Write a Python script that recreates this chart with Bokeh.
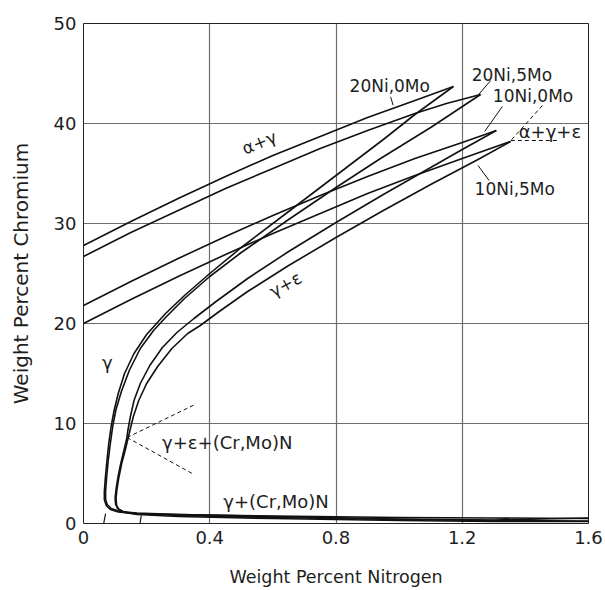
from bokeh.plotting import figure
from bokeh.embed import file_html
from bokeh.resources import INLINE
from bokeh.models import FixedTicker, Range1d
from bokeh.core.properties import value

# ---------------- data (wt% N, wt% Cr) ----------------
x_ticks = [0, 0.4, 0.8, 1.2, 1.6]
y_ticks = [0, 10, 20, 30, 40, 50]
x_title = "Weight Percent Nitrogen"
y_title = "Weight Percent Chromium"

# alpha+gamma / gamma boundaries
up_20ni_0mo_x = [0, 0.15, 0.3, 0.45, 0.6, 0.75, 0.9, 1.05, 1.172]
up_20ni_0mo_y = [27.8, 30.2, 32.5, 34.7, 36.8, 38.7, 40.6, 42.3, 43.7]
up_20ni_5mo_x = [0, 0.15, 0.3, 0.45, 0.6, 0.75, 0.9, 1.05, 1.15, 1.258]
up_20ni_5mo_y = [26.7, 29.1, 31.3, 33.5, 35.5, 37.5, 39.3, 41.0, 42.0, 42.9]
up_10ni_0mo_x = [0, 0.15, 0.3, 0.45, 0.6, 0.75, 0.9, 1.05, 1.2, 1.308]
up_10ni_0mo_y = [21.8, 24.2, 26.5, 28.7, 30.8, 32.8, 34.7, 36.5, 38.1, 39.3]
up_10ni_5mo_x = [0, 0.15, 0.3, 0.45, 0.6, 0.75, 0.9, 1.05, 1.2, 1.353]
up_10ni_5mo_y = [20.0, 22.4, 24.7, 26.9, 29.0, 31.0, 33.0, 34.8, 36.5, 38.2]

# gamma / gamma+epsilon and gamma / gamma+(Cr,Mo)N boundaries
rt_20ni_0mo_x = [1.172, 1.05, 0.95, 0.8, 0.65, 0.5, 0.4, 0.32, 0.26, 0.2, 0.16, 0.13, 0.11,
                 0.097, 0.088, 0.08, 0.074, 0.069, 0.066, 0.066, 0.072, 0.085, 0.11, 0.16,
                 0.3, 0.6, 1.0, 1.3, 1.6]
rt_20ni_0mo_y = [43.7, 40.9, 38.4, 34.8, 31.2, 27.6, 25.0, 22.8, 21.0, 18.9, 17.0, 15.0, 13.0,
                 11.3, 9.8, 8.0, 6.2, 4.5, 3.2, 2.4, 1.8, 1.4, 1.15, 1.0,
                 0.9, 0.75, 0.6, 0.55, 0.5]
rt_20ni_5mo_x = [1.258, 1.1, 0.941, 0.8, 0.65, 0.5, 0.4, 0.32, 0.26, 0.222, 0.18, 0.145, 0.12,
                 0.103, 0.093, 0.085, 0.078, 0.073, 0.07, 0.07, 0.075, 0.088, 0.115, 0.17,
                 0.3, 0.6, 1.0, 1.3, 1.45, 1.6]
rt_20ni_5mo_y = [42.9, 39.6, 36.5, 33.6, 30.4, 27.1, 24.7, 22.5, 20.6, 19.3, 17.5, 15.3, 13.2,
                 11.4, 9.8, 8.0, 6.2, 4.5, 3.2, 2.4, 1.9, 1.5, 1.2, 1.05,
                 0.9, 0.7, 0.45, 0.35, 0.45, 0.55]
rt_10ni_0mo_x = [1.308, 1.2, 1.1, 0.95, 0.8, 0.65, 0.52, 0.42, 0.35, 0.296, 0.25, 0.21, 0.18,
                 0.16, 0.148, 0.14, 0.137, 0.128, 0.118, 0.109, 0.103, 0.1, 0.102, 0.108,
                 0.125, 0.16, 0.3, 0.6, 1.0, 1.3, 1.6]
rt_10ni_0mo_y = [39.3, 37.4, 35.6, 32.9, 30.1, 27.2, 24.5, 22.2, 20.5, 19.1, 17.6, 15.8, 14.0,
                 12.3, 10.6, 9.2, 8.5, 7.3, 6.0, 4.6, 3.4, 2.5, 1.9, 1.5,
                 1.2, 1.0, 0.8, 0.6, 0.4, 0.3, 0.25]
rt_10ni_5mo_x = [1.353, 1.25, 1.1, 0.95, 0.8, 0.65, 0.52, 0.43, 0.37, 0.33, 0.28, 0.235, 0.2,
                 0.175, 0.158, 0.147, 0.141, 0.132, 0.121, 0.112, 0.106, 0.103, 0.105, 0.112,
                 0.13, 0.17, 0.3, 0.6, 1.0, 1.3, 1.6]
rt_10ni_5mo_y = [38.2, 36.4, 33.9, 31.3, 28.6, 25.8, 23.2, 21.2, 19.8, 19.0, 17.5, 15.7, 14.0,
                 12.3, 10.7, 9.3, 8.5, 7.3, 6.0, 4.6, 3.4, 2.5, 1.8, 1.4,
                 1.1, 0.9, 0.7, 0.5, 0.3, 0.2, 0.2]

# short nitride boundary stubs at the base
stub_x = [[0.07, 0.064], [0.183, 0.179]]
stub_y = [[1.0, 0.0], [0.8, 0.0]]

# leader lines (solid) and tie/boundary lines (dashed)
lead_x = [[0.973, 0.981], [1.290, 1.252], [1.327, 1.271], [1.250, 1.285]]
lead_y = [[42.66, 41.83], [44.3, 42.9], [41.7, 39.2], [35.8, 34.3]]
dash_x = [[1.454, 1.354], [1.354, 1.50], [0.138, 0.35], [0.138, 0.35]]
dash_y = [[41.8, 38.3], [38.3, 38.3], [8.6, 11.85], [8.6, 4.9]]

ni_labels = ["20Ni,0Mo", "20Ni,5Mo", "10Ni,0Mo", "10Ni,5Mo"]
ni_label_x = [0.843, 1.230, 1.297, 1.239]
ni_label_y = [43.8, 44.9, 42.8, 33.5]

phase_labels = ["α+γ+ε", "γ+ε+(Cr,Mo)N", "γ+(Cr,Mo)N", "γ"]
phase_label_x = [1.379, 0.249, 0.443, 0.059]
phase_label_y = [39.2, 8.1, 2.2, 16.1]

rot_labels = ["α+γ", "γ+ε"]
rot_x = [0.557, 0.640]
rot_y = [38.1, 23.9]
rot_deg = [22, 29]

# ---------------- figure ----------------
FONT = "DejaVu Sans"
INK = "#1e1e1e"
p = figure(width=605, height=590, output_backend="svg", toolbar_location=None,
           x_range=Range1d(0, 1.6), y_range=Range1d(0, 50),
           min_border_left=83, min_border_right=17, min_border_top=23, min_border_bottom=67,
           x_axis_label=x_title, y_axis_label=y_title)
p.background_fill_color = "white"
p.border_fill_color = "white"
p.outline_line_color = "#222222"
p.outline_line_width = 1

for ax in (p.xaxis[0], p.yaxis[0]):
    ax.axis_line_color = None
    ax.major_tick_line_color = None
    ax.minor_tick_line_color = None
    ax.major_tick_out = 0
    ax.major_tick_in = 0
    ax.minor_tick_out = 0
    ax.minor_tick_in = 0
    ax.major_label_text_font = FONT
    ax.major_label_text_font_size = "18px"
    ax.major_label_text_color = INK
    ax.axis_label_text_font = FONT
    ax.axis_label_text_font_style = "normal"
    ax.axis_label_text_color = INK
p.xaxis.axis_label_text_font_size = "17.5px"
p.yaxis.axis_label_text_font_size = "20px"
p.xaxis.ticker = FixedTicker(ticks=x_ticks)
p.yaxis.ticker = FixedTicker(ticks=y_ticks)
p.xaxis.major_label_overrides = {0: "0", 0.4: "0.4", 0.8: "0.8", 1.2: "1.2", 1.6: "1.6"}
p.xaxis.major_label_standoff = 7
p.xaxis.axis_label_standoff = 20
p.yaxis.major_label_standoff = 7
p.yaxis.axis_label_standoff = 18

p.xgrid.ticker = FixedTicker(ticks=x_ticks)
p.ygrid.ticker = FixedTicker(ticks=y_ticks)
for g in (p.xgrid[0], p.ygrid[0]):
    g.grid_line_color = "#6e6e6e"
    g.grid_line_width = 1.2

LW = 1.6
for xs, ys in [(up_20ni_0mo_x, up_20ni_0mo_y), (up_20ni_5mo_x, up_20ni_5mo_y),
               (up_10ni_0mo_x, up_10ni_0mo_y), (up_10ni_5mo_x, up_10ni_5mo_y),
               (rt_20ni_0mo_x, rt_20ni_0mo_y), (rt_20ni_5mo_x, rt_20ni_5mo_y),
               (rt_10ni_0mo_x, rt_10ni_0mo_y), (rt_10ni_5mo_x, rt_10ni_5mo_y)]:
    p.line(xs, ys, line_color="#111111", line_width=LW, line_join="round")

p.multi_line(stub_x, stub_y, line_color="#111111", line_width=1.2)
p.multi_line(lead_x, lead_y, line_color="#111111", line_width=1.0)
p.multi_line(dash_x, dash_y, line_color="#111111", line_width=1.0, line_dash="4 3")

p.text(ni_label_x, ni_label_y, text=ni_labels, text_font=value(FONT), text_font_size="17px",
       text_color=INK, text_align="left", text_baseline="middle")
p.text(phase_label_x, phase_label_y, text=phase_labels, text_font=value(FONT),
       text_font_size="18px", text_color=INK, text_align="left", text_baseline="middle")
p.text(rot_x, rot_y, text=rot_labels, angle=rot_deg, angle_units="deg",
       text_font=value(FONT), text_font_size="17px", text_color=INK,
       text_align="center", text_baseline="middle")

open("out.html", "w").write(file_html(p, INLINE))
